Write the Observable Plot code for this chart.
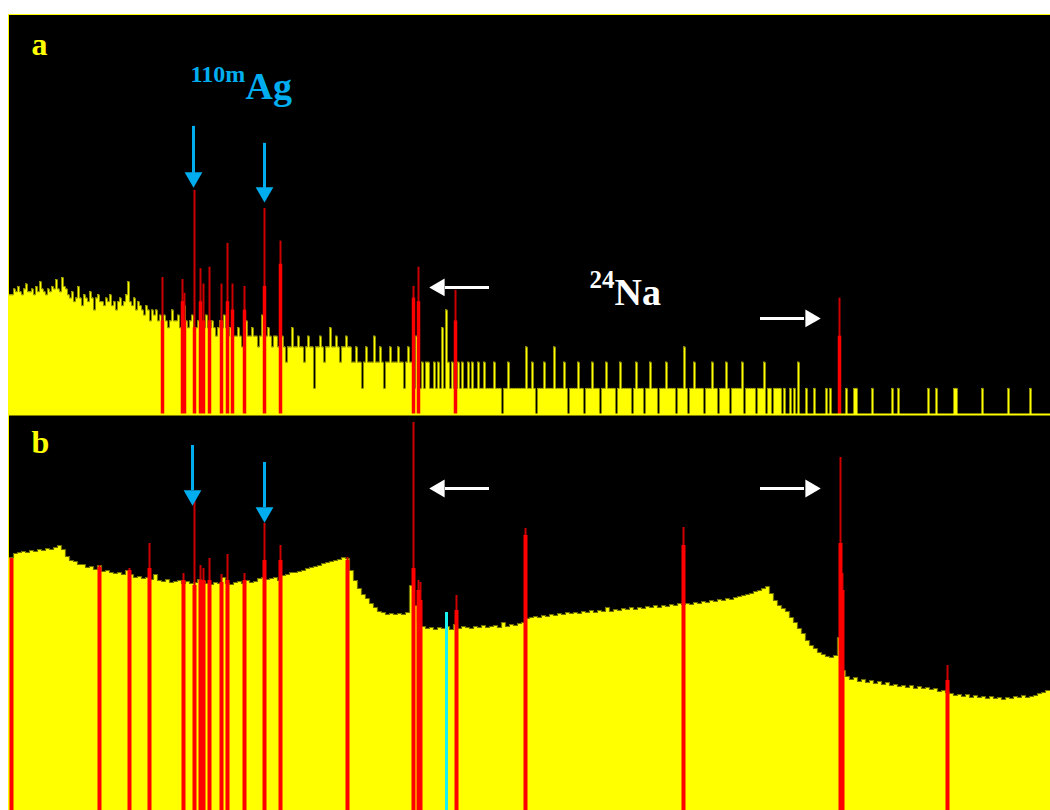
<!DOCTYPE html>
<html><head><meta charset="utf-8">
<script src="https://cdn.jsdelivr.net/npm/d3@7"></script>
<script src="https://cdn.jsdelivr.net/npm/@observablehq/plot@0.6"></script>
<style>
html,body{margin:0;padding:0;background:#fff;overflow:hidden;}
#fig{position:absolute;left:8px;top:14px;border-top:1px solid #ffff00;border-left:1px solid #ffff00;width:1041px;}
#fig svg{display:block;}
</style></head><body><div id="fig"></div>
<script>
// ---------- Panel a: low-count spectrum (counts per 2-channel bin, log scale) ----------
const specA = [
12,12,14,
13,15,13,12,14,16,13,13,14,12,15,13,17,14,13,12,14,13,
15,14,18,14,13,19,15,14,
12,11,13,10,11,15,11,9,12,11,10,13,11,8,11,12,10,
10,9,11,10,12,9,10,8,10,11,9,10,12,17,10,9,11,8,10,9,
8,7,9,8,6,8,7,8,6,7,
6,7,6,5,6,8,6,6,7,5,6,9,6,5,6,7,
5,5,6,5,4,5,7,5,5,6,5,4,5,6,5,7,5,4,5,5,
4,4,5,4,3,4,6,4,4,5,4,4,3,4,7,4,4,5,4,3,4,4,
3,3,4,3,2,3,3,5,3,3,4,3,3,2,3,4,3,3,1,3,3,4,3,2,3,3,5,3,3,4,3,2,3,3,4,3,3,
2,2,3,2,2,1,2,3,2,2,2,4,2,2,3,2,1,2,2,3,2,2,2,3,2,2,1,2,3,2,
2,1,4,2,1,2,1,2,2,1,1,2,1,2,1,5,1,8,2,1,2,1,1,2,1,2,1,1,2,1,2,1,1,2,1,1,2,
1,1,1,1,2,1,1,1,0,1,1,2,1,1,1,1,1,1,
1,1,3,1,1,2,1,0,1,1,1,2,1,1,1,1,3,1,
1,1,1,2,1,0,1,1,1,1,2,1,1,0,1,1,1,2,
1,1,1,0,1,1,2,1,1,1,1,0,1,2,1,1,1,1,
1,0,1,2,1,1,1,0,1,1,2,1,1,1,0,1,1,1,
2,1,1,1,1,0,1,1,1,3,1,0,1,1,2,1,1,1,
1,0,1,1,1,2,1,1,0,1,1,1,2,1,0,1,1,1,1,1,2,0,1,1,1,
1,1,0,1,1,1,2,0,1,1,0,1,1,1,1,0,1,0,0,1,0,1,0,2,0,
0,0,1,0,0,0,1,0,0,0,0,0,1,0,1,0,0,0,0,0,
0,0,1,0,0,0,1,1,0,0,0,0,0,0,0,1,0,0,0,0,
0,0,0,0,0,1,0,0,1,0,0,0,0,0,0,0,0,0,0,0,
0,0,0,1,0,0,0,1,0,0,0,0,0,0,0,0,1,1,0,0,
0,0,0,0,0,0,0,0,0,0,1,0,0,0,0,0,0,0,0,0,
0,0,0,1,0,0,0,0,0,0,0,0,0,0,1,0,0,0,0,0,0,0,0,0
];
const peakA_x    = [153,173,175,185,191,194,200,212,218,223,235,255,271,404,409,446,830];
const peakA_top  = [19, 18, 12.5,192,24, 16, 25, 16, 47, 16, 15, 119,50, 15, 25, 13.5,11];
const peakA_body = [6,  10, 6,  5,  10, 6,  6,  6,  10, 8,  8,  15, 27, 11, 10, 6,  4];

// ---------- Panel b: high-count spectrum (counts per 4-channel bin, linear) ----------
const specB = [
2530,2570,2580,2590,2580,2600,2590,2610,2600,2620,
2610,2630,2650,2610,2540,2500,2490,2460,2460,2430,
2440,2410,2450,2390,2400,2380,2370,2380,2360,2400,
2360,2330,2340,2320,2330,2310,2360,2300,2290,2310,
2280,2290,2300,2270,2290,2270,2280,2310,2290,2270,
2260,2280,2270,2330,2270,2260,2280,2290,2270,2300,
2280,2290,2320,2330,2310,2320,2330,2300,2350,2360,
2380,2380,2390,2400,2420,2430,2440,2450,2470,2480,
2490,2500,2510,2530,2520,2400,2300,2220,2160,2120,
2070,2030,1990,1980,1960,1970,1960,1970,1960,1980,
2250,2050,1880,1840,1820,1830,1810,1830,1820,1840,
1810,1860,1820,1840,1830,1820,1840,1830,1850,1830,
1840,1850,1830,1880,1840,1860,1850,1870,1880,1920,
1930,1940,1930,1950,1940,1960,1950,1970,1960,1980,
1970,1980,1970,1990,1980,2000,1980,2000,1990,2030,
1990,2010,2000,2020,2010,2030,2010,2030,2020,2040,
2030,2050,2030,2050,2040,2060,2050,2070,2060,2070,
2060,2080,2070,2090,2080,2100,2090,2110,2100,2120,
2110,2130,2140,2150,2160,2170,2190,2200,2220,2240,
2170,2100,2050,2020,1990,1930,1880,1820,1770,1700,
1650,1620,1580,1560,1540,1530,1550,1730,1400,1340,
1310,1330,1290,1310,1280,1300,1270,1290,1260,1280,
1250,1260,1240,1250,1230,1250,1220,1240,1220,1230,
1210,1220,1190,1200,1180,1170,1150,1160,1140,1160,
1130,1150,1130,1140,1120,1140,1120,1130,1110,1130,
1120,1140,1130,1150,1130,1140,1150,1170,1180,1200
];
const peakB_x    = [2,   90,  120, 140, 174, 185, 191, 194, 200, 212, 218, 235, 255, 271, 338, 404, 409, 411, 447, 516, 674, 831, 833, 938];
const peakB_top  = [2520,2450,2420,2670,2370,3100,2450,2420,2520,2360,2560,2370,2870,2650,2530,3880,2300,2280,2150,2820,2830,3530,2370,1450];
const peakB_body = [2520,2430,2400,2420,2300,2250,2300,2300,2300,2280,2300,2300,2500,2500,2500,2420,2200,2100,2000,2750,2650,2670,2200,1300];
const cyanB_x = [437], cyanB_top = [1980];

// ---------- Annotations ----------
const blueA_x = [184, 255], blueA_from = [1052, 670], blueA_shaftEnd = [302, 203], blueA_tip = [208, 140];
const blueB_x = [183, 255], blueB_from = [3650, 3480], blueB_shaftEnd = [3200, 3030], blueB_tip = [3050, 2880];
// white arrows: [left-pointing, right-pointing]
const whiteA_y = [14.6, 6.42];
const whiteB_y = [3220, 3220];
const white_tail = [480, 751], white_shaftEnd = [436, 795], white_tip = [420, 811];

const labelA = [{x:22, y:6934, t:"a"}];
const labelB = [{x:22, y:3580, t:"b"}];
const agSup = [{x:181, y:3383, t:"110m"}], agMain = [{x:236, y:2155, t:"Ag"}];
const naSup = [{x:580, y:14.2, t:"24"}],  naMain = [{x:605, y:9.06, t:"Na"}];

// ---------- Styles ----------
const YEL = "#ffff00", RED = "#ff0000", DRED = "#cc0000", BLUE = "#00aeef", WHITE = "#ffffff";
const SERIF = "Liberation Serif, Times New Roman, serif";
const W = 1041, binA = 2, binB = 4;

const rowsA = specA.map((c, i) => ({x: i * binA, y: Math.max(c, 0.5)}));
rowsA.push({x: W, y: rowsA[rowsA.length - 1].y});
const rowsB = specB.map((v, i) => ({x: i * binB, y: v}));
rowsB.push({x: W, y: rowsB[rowsB.length - 1].y});
const pkA = peakA_x.map((x, i) => ({x, top: peakA_top[i], body: peakA_body[i]}));
const pkB = peakB_x.map((x, i) => ({x, top: peakB_top[i], body: peakB_body[i]}));
const bA = blueA_x.map((x, i) => ({x, from: blueA_from[i], end: blueA_shaftEnd[i], tip: blueA_tip[i]}));
const bB = blueB_x.map((x, i) => ({x, from: blueB_from[i], end: blueB_shaftEnd[i], tip: blueB_tip[i]}));
const wA = whiteA_y.map((y, i) => ({y, tail: white_tail[i], end: white_shaftEnd[i], tip: white_tip[i]}));
const wB = whiteB_y.map((y, i) => ({y, tail: white_tail[i], end: white_shaftEnd[i], tip: white_tip[i]}));

function arrowMarks(blue, white) {
  return [
    Plot.ruleX(blue, {x: "x", y1: "from", y2: "end", stroke: BLUE, strokeWidth: 3}),
    Plot.dot(blue, {x: "x", y: "tip", symbol: "triangle", r: 6.6, rotate: 180, dy: -10, fill: BLUE, stroke: "none"}),
    Plot.ruleY(white, {y: "y", x1: "tail", x2: "end", stroke: WHITE, strokeWidth: 3}),
    Plot.dot([white[0]], {x: "tip", y: "y", symbol: "triangle", r: 6.6, rotate: -90, dx: 10, fill: WHITE, stroke: "none"}),
    Plot.dot([white[1]], {x: "tip", y: "y", symbol: "triangle", r: 6.6, rotate: 90, dx: -10, fill: WHITE, stroke: "none"})
  ];
}
function txt(data, size, color) {
  return Plot.text(data, {x: "x", y: "y", text: "t", textAnchor: "start", lineAnchor: "bottom",
    fontSize: size, fontWeight: "bold", fontFamily: SERIF, fill: color});
}

const plotA = Plot.plot({
  width: W, height: 401, marginTop: 0, marginLeft: 0, marginRight: 0, marginBottom: 2,
  x: {domain: [0, W], axis: null},
  y: {type: "log", domain: [0.5, 20000], axis: null},
  style: {background: "#000"},
  marks: [
    Plot.areaY(rowsA, {x: "x", y1: 0.5, y2: "y", curve: "step-after", fill: YEL}),
    Plot.lineY(rowsA, {x: "x", y: "y", curve: "step-after", stroke: "#8c8c00", strokeWidth: 1}),
    Plot.ruleX(pkA, {x: "x", y1: 0.5, y2: "top", stroke: DRED, strokeWidth: 2}),
    Plot.ruleX(pkA, {x: "x", y1: 0.5, y2: "body", stroke: RED, strokeWidth: 3.5}),
    Plot.ruleY([0.5], {stroke: YEL, strokeWidth: 2}),
    ...arrowMarks(bA, wA),
    txt(labelA, 32, YEL),
    txt(agSup, 24, BLUE), txt(agMain, 38, BLUE),
    txt(naSup, 25, WHITE), txt(naMain, 38, WHITE)
  ]
});

const plotB = Plot.plot({
  width: W, height: 394, margin: 0,
  x: {domain: [0, W], axis: null},
  y: {domain: [0, 3940], axis: null},
  style: {background: "#000"},
  marks: [
    Plot.areaY(rowsB, {x: "x", y: "y", curve: "step-after", fill: YEL}),
    Plot.lineY(rowsB, {x: "x", y: "y", curve: "step-after", stroke: "#707000", strokeWidth: 1.2}),
    Plot.ruleX(pkB, {x: "x", y1: 0, y2: "top", stroke: DRED, strokeWidth: 2}),
    Plot.ruleX(pkB, {x: "x", y1: 0, y2: "body", stroke: RED, strokeWidth: 4}),
    Plot.ruleX(cyanB_x.map((x, i) => ({x, top: cyanB_top[i]})), {x: "x", y1: 0, y2: "top", stroke: "#19f0f0", strokeWidth: 3}),
    ...arrowMarks(bB, wB),
    txt(labelB, 32, YEL)
  ]
});

const fig = document.getElementById("fig");
fig.appendChild(plotA);
fig.appendChild(plotB);
</script></body></html>
